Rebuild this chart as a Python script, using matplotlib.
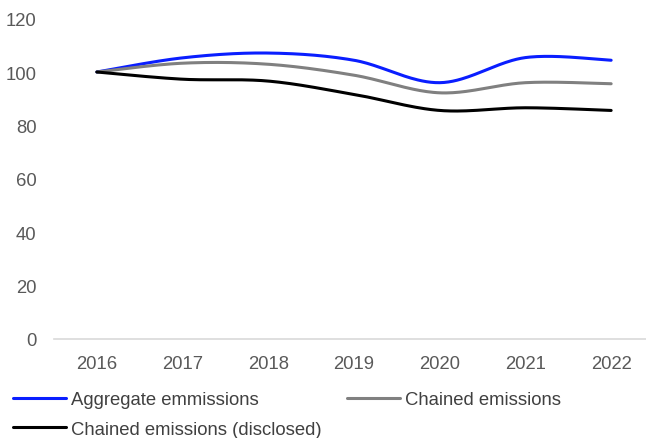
import numpy as np
import matplotlib
matplotlib.use("Agg")
import matplotlib.pyplot as plt

years = ["2016", "2017", "2018", "2019", "2020", "2021", "2022"]
aggregate = [100, 105.3, 107.1, 104.4, 96.0, 105.4, 104.4]
chained = [100, 103.3, 102.9, 98.8, 92.2, 96.0, 95.6]
disclosed = [100, 97.3, 96.6, 91.6, 85.6, 86.6, 85.6]

labels = ["Aggregate emmissions", "Chained emissions", "Chained emissions (disclosed)"]
colors = ["#0a1eff", "#808080", "#000000"]


# smooth line through the points (Catmull-Rom, like a spreadsheet "smoothed line")
def smooth(y, n=40):
    x = np.arange(len(y), dtype=float)
    y = np.asarray(y, dtype=float)
    px = np.concatenate([[x[0]], x, [x[-1]]])
    py = np.concatenate([[y[0]], y, [y[-1]]])
    xs, ys = [], []
    t = np.linspace(0, 1, n)
    for i in range(1, len(px) - 2):
        p0, p1, p2, p3 = [np.array([px[j], py[j]]) for j in range(i - 1, i + 3)]
        c1 = p1 + (p2 - p0) / 6
        c2 = p2 - (p3 - p1) / 6
        pts = ((1 - t) ** 3)[:, None] * p1 + (3 * (1 - t) ** 2 * t)[:, None] * c1 \
            + (3 * (1 - t) * t ** 2)[:, None] * c2 + (t ** 3)[:, None] * p2
        xs.append(pts[:, 0])
        ys.append(pts[:, 1])
    return np.concatenate(xs), np.concatenate(ys)


plt.rcParams["font.family"] = ["Liberation Sans", "DejaVu Sans"]

fig = plt.figure(figsize=(6.46, 4.39), dpi=100)
ax = fig.add_axes([54 / 646, 1 - 340 / 439, 600 / 646, 320.4 / 439])

handles = []
for series, color, label in zip([aggregate, chained, disclosed], colors, labels):
    sx, sy = smooth(series)
    h, = ax.plot(sx, sy, color=color, lw=2.2, solid_capstyle="round", label=label)
    handles.append(h)

ax.set_xlim(-0.5, 6.5)
ax.set_ylim(0, 120)
ax.set_yticks(range(0, 121, 20))
ax.set_xticks(range(len(years)))
ax.set_xticklabels(years)
ax.tick_params(length=0, labelsize=13.3, colors="#595959")
ax.tick_params(axis="x", pad=11.5)
ax.tick_params(axis="y", pad=12.5)
for side in ["top", "left", "right"]:
    ax.spines[side].set_visible(False)
ax.spines["bottom"].set_color("#d9d9d9")
ax.spines["bottom"].set_linewidth(1.2)

# legend fills column-wise, so reorder to read across rows
order = [0, 2, 1]
leg = fig.legend([handles[i] for i in order], [labels[i] for i in order],
                 loc="upper left", bbox_to_anchor=(13 / 646, 1 - 392 / 439),
                 ncol=2, frameon=False, fontsize=13.3, handlelength=2.89,
                 handletextpad=0.27, columnspacing=1.35, labelspacing=0.69,
                 borderpad=0, borderaxespad=0)
for t in leg.get_texts():
    t.set_color("#404040")

fig.savefig("out.png", dpi=100)
